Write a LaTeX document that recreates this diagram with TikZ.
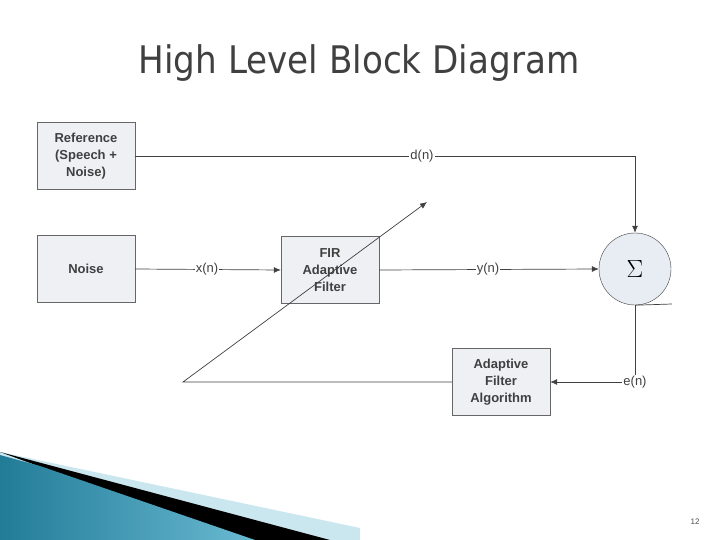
\documentclass[tikz,border=0pt]{standalone}
\usepackage{fontspec}
\setmainfont{Liberation Sans}
\newfontfamily\titlefont{DejaVu Sans}
\usetikzlibrary{positioning,arrows.meta}
\definecolor{boxfill}{HTML}{EEF0F4}
\definecolor{sumfill}{HTML}{E8ECF3}
\definecolor{swoosh}{HTML}{2A9BBE}
\tikzset{
  blk/.style={draw=gray!80!black, fill=boxfill, minimum width=98pt, minimum height=67pt,
    align=center, font=\bfseries\fontsize{13}{17}\selectfont, text=black!75, inner sep=1pt},
  sig/.style={draw=black!75, line width=0.7pt},
  lbl/.style={fill=white, inner sep=1pt, font=\fontsize{13}{15}\selectfont, text=black!75},
  tip/.style={-{Latex[length=7pt,width=6pt]}}
}
\begin{document}
\begin{tikzpicture}[x=1pt,y=-1pt]
  \useasboundingbox (0,0) rectangle (720,540);
  % swoosh
  \fill[swoosh!25] (0,452) -- (360,528) -- (360,540) -- (0,540) -- cycle;
  \fill[black] (0,452) -- (330,540) -- (240,540) -- cycle;
  \shade[left color=swoosh!80!black, right color=swoosh!70] (0,455) -- (40,466) -- (255,540) -- (0,540) -- cycle;
  % title
  \node[font=\titlefont\fontsize{38}{40}\selectfont, text=black!75, xscale=0.9] (title) at (359,63) {High Level Block Diagram};
  \node[font=\fontsize{8}{9}\selectfont, text=black!70] (page) at (695,522) {12};

  % blocks
  \node[blk] (ref) at (86,156) {Reference\\(Speech +\\Noise)};
  \node[blk] (noise) at (86,269) {Noise};
  \node[blk] (fir) at (330,270) {FIR\\Adaptive\\Filter};
  \node[blk] (alg) at (501,382) {Adaptive\\Filter\\Algorithm};
  \node[circle, draw=black!75, fill=sumfill, minimum size=72pt, inner sep=0pt,
        font=\fontsize{36}{36}\selectfont] (sum) at (635,269) {$\Sigma$};

  \coordinate (dcorner) at (635,156);
  \coordinate (ecorner) at (635,382);
  \coordinate (wleft) at (183,382);
  \coordinate (wtip) at (427,202);
  \coordinate (stub) at (672,304);

  % connectors
  \draw[sig, tip] (ref.east) -- (dcorner) -- (sum.north);
  \node[lbl] (dn) at (422,156) {d(n)};
  \draw[sig, tip] (noise.east) -- (fir.west);
  \node[lbl] (xn) at (207,269) {x(n)};
  \draw[sig, tip] (fir.east) -- (sum.west);
  \node[lbl] (yn) at (488,269) {y(n)};
  \draw[sig, tip] (sum.south) -- (ecorner) -- (alg.east);
  \node[lbl] (en) at (635,382) {e(n)};
  \draw[sig] (sum.south) -- (stub);
  \draw[sig, tip] (alg.west) -- (wleft) -- (wtip);
\end{tikzpicture}
\end{document}
